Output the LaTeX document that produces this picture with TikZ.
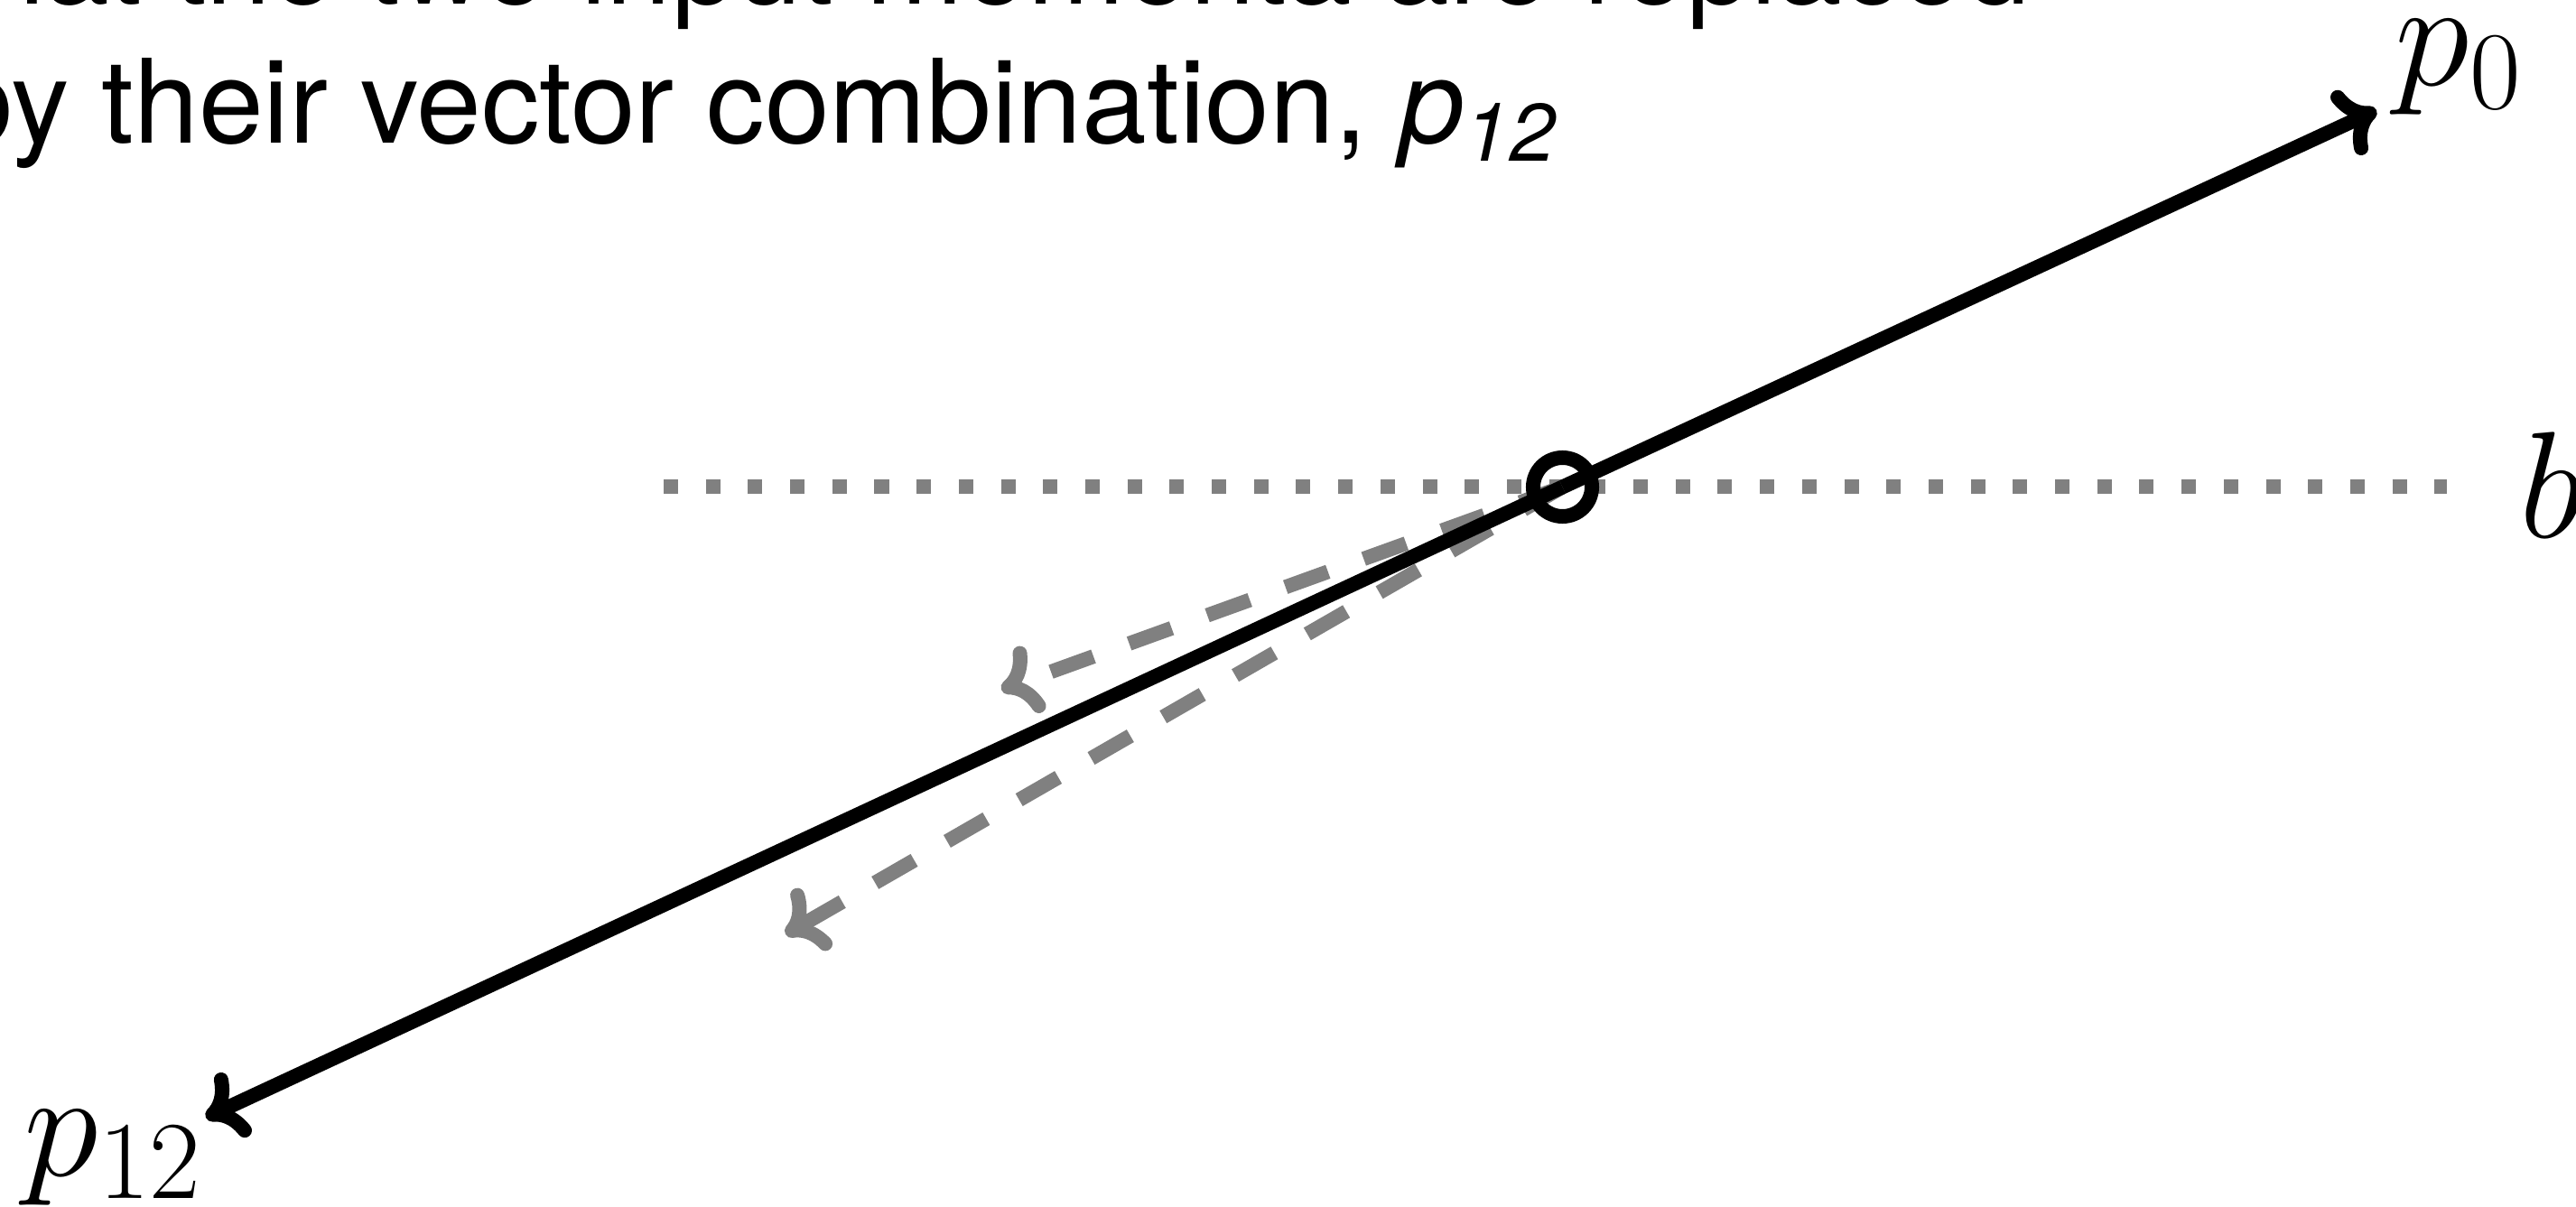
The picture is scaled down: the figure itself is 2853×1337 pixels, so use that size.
\RequirePackage{fix-cm}
\documentclass[tikz,border=0pt]{standalone}
\usepackage{fontspec}
\newfontfamily\herosfont{TeX Gyre Heros}
\usetikzlibrary{arrows.meta}
\DeclareMathSizes{47.8}{47.8}{35}{25}
\definecolor{dotgray}{gray}{0.5}
\begin{document}
\begin{tikzpicture}[x=0.01cm, y=-0.01cm,
  cmtip/.style={-{Computer Modern Rightarrow[length=0.41cm, width=0.78cm, line cap=round]}},
  vec/.style={cmtip, line width=0.16cm, line cap=butt, draw=black},
  grayvec/.style={cmtip, line width=0.16cm, line cap=butt, draw=dotgray, dash pattern=on 0.5cm off 0.42cm},
  dotline/.style={line width=0.16cm, line cap=butt, draw=dotgray, dash pattern=on 0.16cm off 0.3067cm},
  lab/.style={inner sep=0pt, font=\fontsize{47.8}{57}\selectfont},
  txt/.style={inner sep=0pt, font=\herosfont\fontsize{36.7}{44}\selectfont}]
\useasboundingbox (0,0) rectangle (2853,1337);
\fill[white] (0,0) rectangle (2853,1337);
% dotted reference line b
\coordinate (bl) at (735,539.5);
\coordinate (br) at (2710,539.5);
\draw[dotline] (bl) -- (br);
% centre
\coordinate (o) at (1730.5,539.5);
% gray dashed input momenta
\coordinate (qa) at (1109,764);
\coordinate (qb) at (870,1035);
\draw[grayvec] (o) -- (qa);
\draw[grayvec] (o) -- (qb);
% black momenta
\coordinate (t0) at (2632,122);
\coordinate (t12) at (228,1238);
\draw[vec] (o) -- (t0);
\draw[vec] (o) -- (t12);
\node[draw, circle, line width=0.16cm, minimum size=0.65cm, inner sep=0pt] (c) at (o) {};
% labels
\node[lab, anchor=base west] (p0) at (2652,95) {$p_0$};
\node[lab, anchor=base west] (p12) at (26,1302) {$p_{12}$};
\node[lab, anchor=base west] (b) at (2790,596) {$b$};
% caption text
\node[txt, anchor=base west] (l1) at (-58,5) {that the two input momenta are replaced};
\node[txt, anchor=base west] (l2) at (-58,159) {by their vector combination, {\itshape p\textsubscript{12}}};
\end{tikzpicture}
\end{document}
